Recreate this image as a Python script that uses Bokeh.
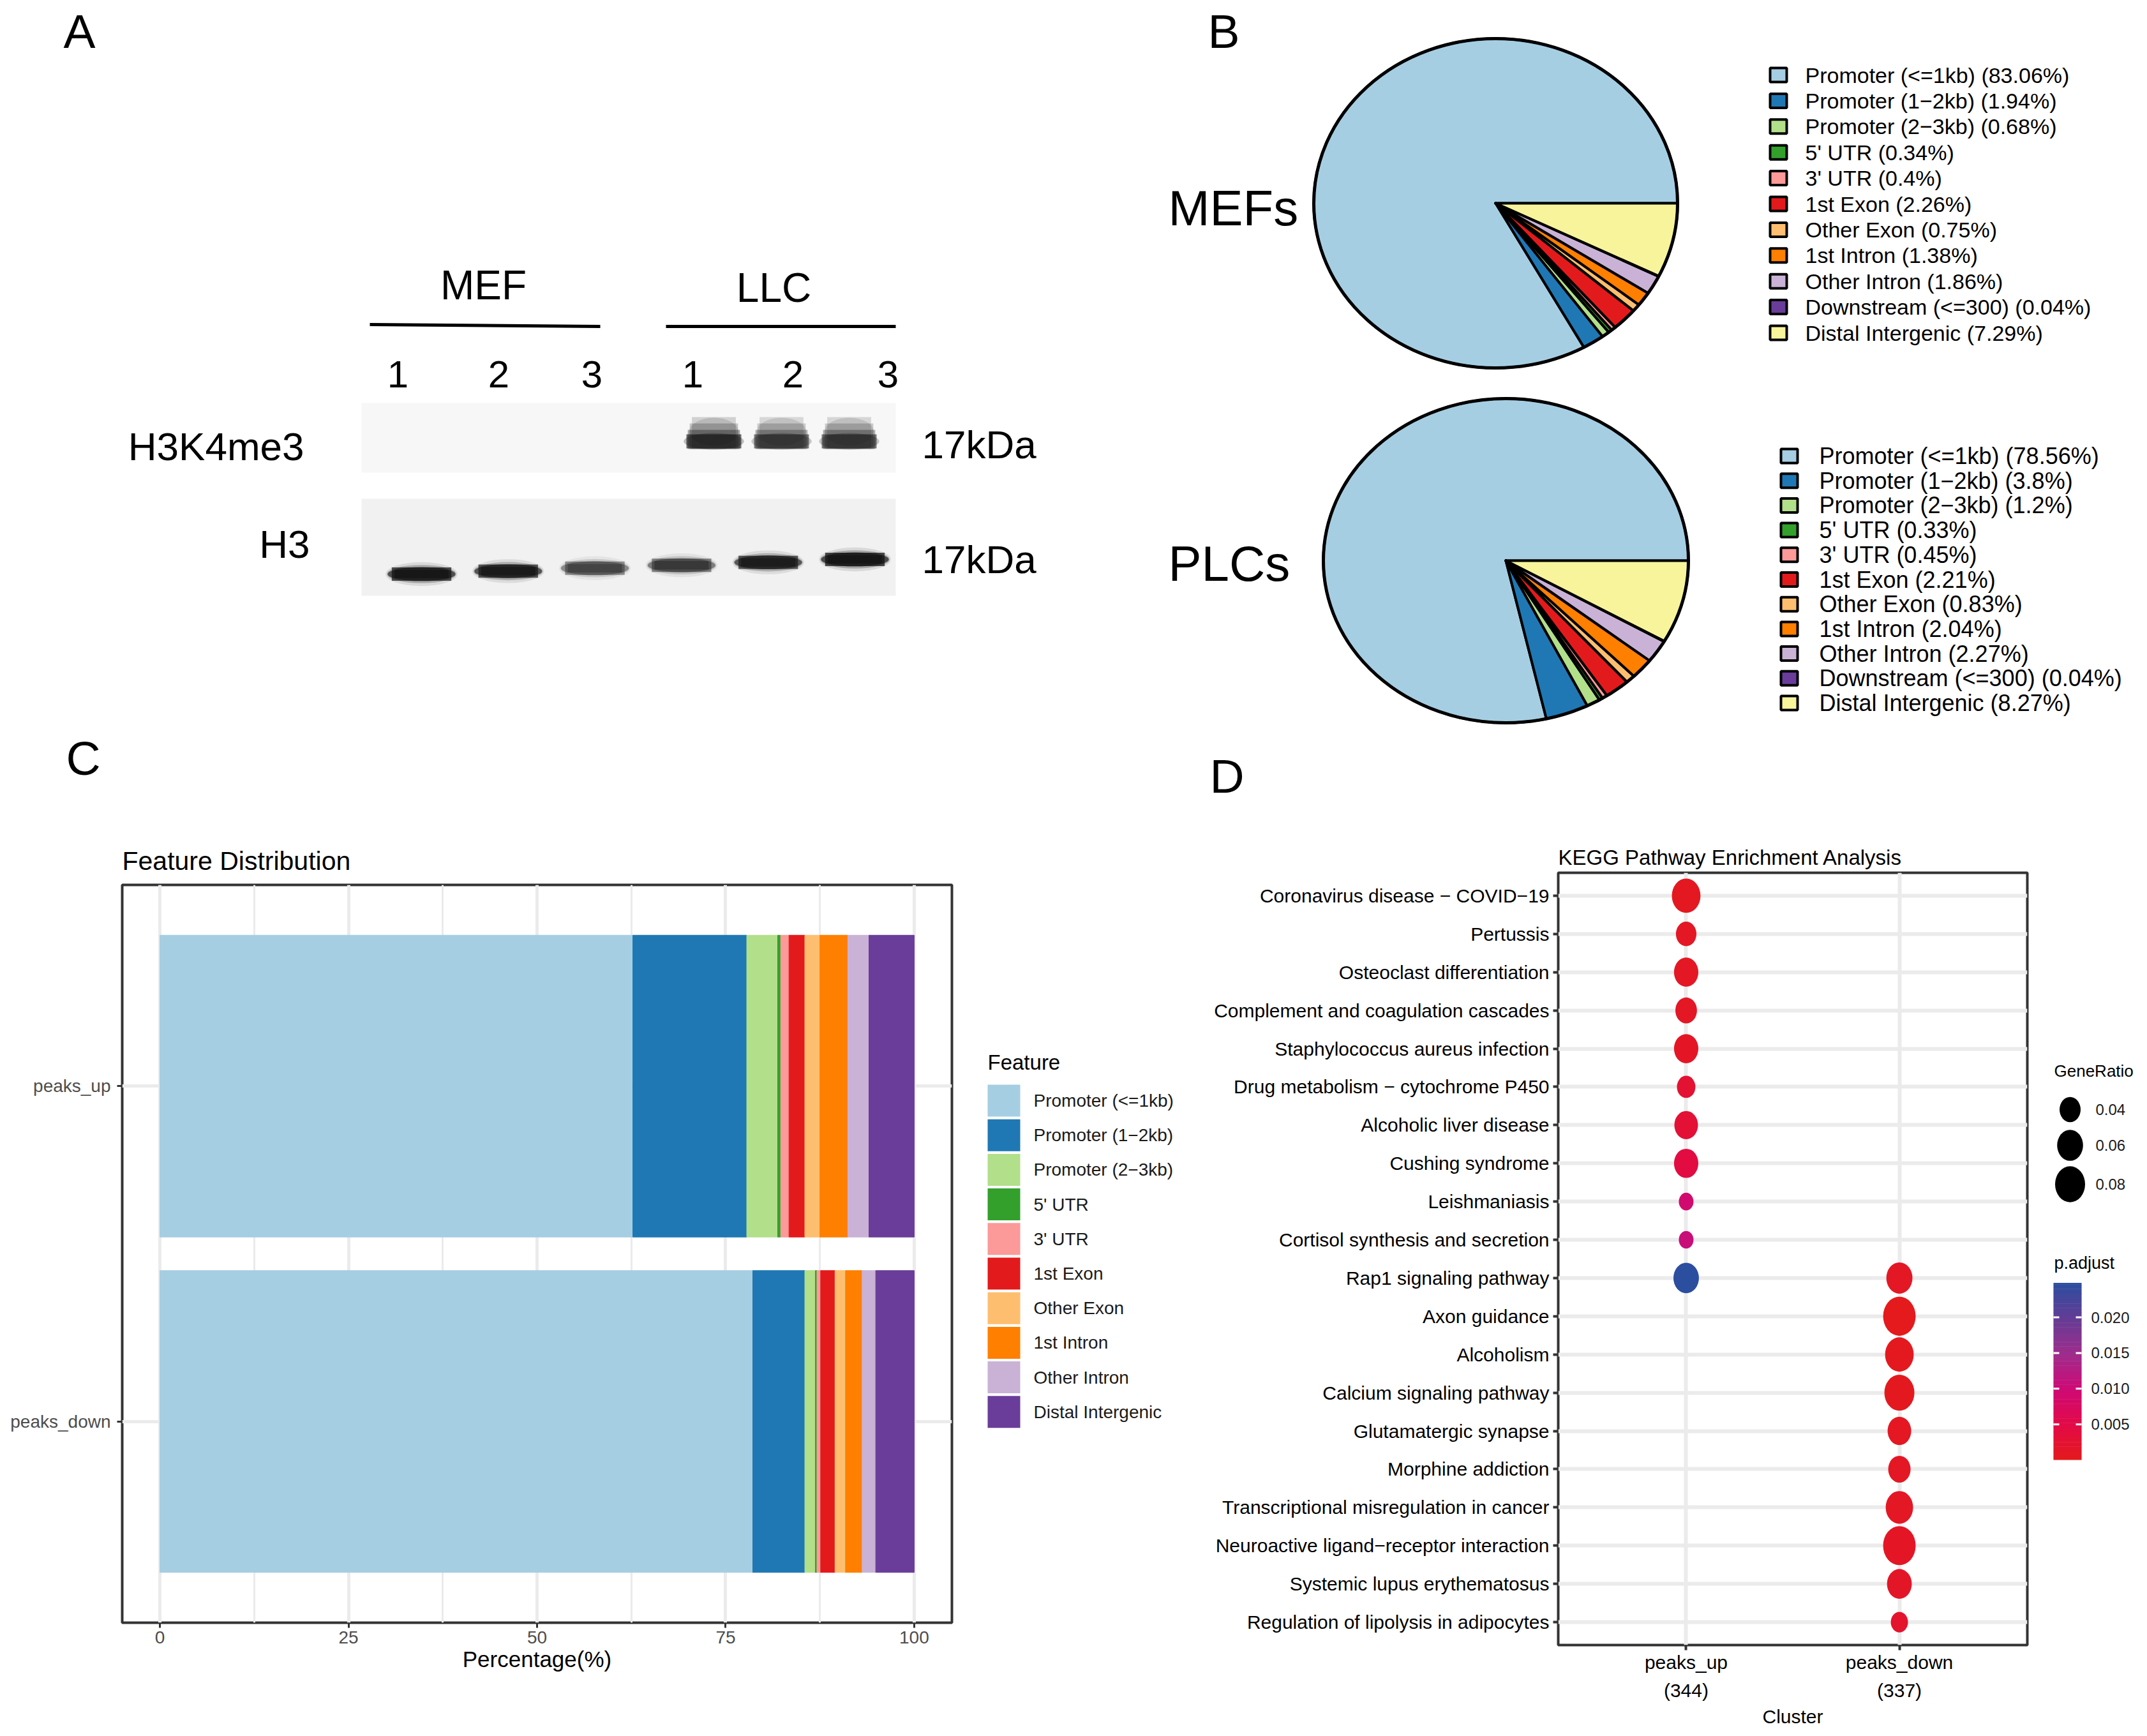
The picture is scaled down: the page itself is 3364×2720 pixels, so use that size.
import numpy as np
from bokeh.plotting import figure
from bokeh.models import Range1d, FactorRange, ColumnDataSource, FixedTicker
from bokeh.layouts import column, row
from bokeh.core.properties import value
from bokeh.transform import linear_cmap
from bokeh.embed import file_html
from bokeh.resources import INLINE

SANS = "Liberation Sans"

# ---------------- DATA ----------------
# Panel A : western blot (relative band intensity per lane)
lane_numbers = ["1", "2", "3", "1", "2", "3"]
lane_groups = ["MEF", "LLC"]
blot_rows = ["H3K4me3", "H3"]
blot_marker = ["17kDa", "17kDa"]
h3k4me3_signal = [0.0, 0.0, 0.0, 1.0, 0.85, 0.88]
h3_signal = [0.97, 0.92, 0.55, 0.62, 0.9, 1.0]

# Panel B : peak annotation pies
anno_features = ["Promoter (<=1kb)", "Promoter (1\u22122kb)", "Promoter (2\u22123kb)", "5' UTR", "3' UTR",
                 "1st Exon", "Other Exon", "1st Intron", "Other Intron", "Downstream (<=300)",
                 "Distal Intergenic"]
mefs_pct = [83.06, 1.94, 0.68, 0.34, 0.4, 2.26, 0.75, 1.38, 1.86, 0.04, 7.29]
plcs_pct = [78.56, 3.8, 1.2, 0.33, 0.45, 2.21, 0.83, 2.04, 2.27, 0.04, 8.27]
anno_colors = ["#A6CEE3", "#1F78B4", "#B2DF8A", "#33A02C", "#FB9A99", "#E31A1C",
               "#FDBF6F", "#FF7F00", "#CAB2D6", "#6A3D9A", "#F7F49C"]
pie_names = ["MEFs", "PLCs"]

# Panel C : feature distribution
bar_features = ["Promoter (<=1kb)", "Promoter (1\u22122kb)", "Promoter (2\u22123kb)", "5' UTR", "3' UTR",
                "1st Exon", "Other Exon", "1st Intron", "Other Intron", "Distal Intergenic"]
bar_samples = ["peaks_up", "peaks_down"]
peaks_up_pct = [62.7, 15.1, 4.1, 0.4, 1.1, 2.1, 2.0, 3.7, 2.8, 6.0]
peaks_down_pct = [78.6, 6.9, 1.4, 0.2, 0.5, 1.9, 1.4, 2.2, 1.8, 5.1]
bar_colors = ["#A6CEE3", "#1F78B4", "#B2DF8A", "#33A02C", "#FB9A99", "#E31A1C",
              "#FDBF6F", "#FF7F00", "#CAB2D6", "#6A3D9A"]
pct_ticks = [0, 25, 50, 75, 100]
pct_minor = [12.5, 37.5, 62.5, 87.5]

# Panel D : KEGG enrichment
kegg_pathways = ["Coronavirus disease \u2212 COVID\u221219", "Pertussis", "Osteoclast differentiation",
                 "Complement and coagulation cascades", "Staphylococcus aureus infection",
                 "Drug metabolism \u2212 cytochrome P450", "Alcoholic liver disease", "Cushing syndrome",
                 "Leishmaniasis", "Cortisol synthesis and secretion", "Rap1 signaling pathway",
                 "Axon guidance", "Alcoholism", "Calcium signaling pathway", "Glutamatergic synapse",
                 "Morphine addiction", "Transcriptional misregulation in cancer",
                 "Neuroactive ligand\u2212receptor interaction", "Systemic lupus erythematosus",
                 "Regulation of lipolysis in adipocytes"]
clusters = ["peaks_up\n(344)", "peaks_down\n(337)"]
up_pathways = kegg_pathways[:11]
up_ratio = [0.073, 0.038, 0.053, 0.042, 0.053, 0.031, 0.050, 0.053, 0.020, 0.020, 0.058]
up_padj = [0.0006, 0.0009, 0.0010, 0.0011, 0.0012, 0.0025, 0.0029, 0.0043, 0.0093, 0.0105, 0.0248]
down_pathways = kegg_pathways[10:]
down_ratio = [0.061, 0.094, 0.073, 0.080, 0.050, 0.045, 0.067, 0.094, 0.055, 0.027]
down_padj = [0.0010, 0.00002, 0.0003, 0.0004, 0.0008, 0.0009, 0.0010, 0.0012, 0.0014, 0.0018]
ratio_breaks = [0.04, 0.06, 0.08]
padj_breaks = [0.005, 0.010, 0.015, 0.020]
padj_low, padj_high = 0.0, 0.0248
padj_stops = ["#E41A1C", "#E20A48", "#CE0A76", "#9E2D8C", "#643C95", "#2C4E9F"]


# ---------------- helpers ----------------
def hex2rgb(h):
    return [int(h[i:i + 2], 16) for i in (1, 3, 5)]


def interp_palette(stops, n=256):
    cols = np.array([hex2rgb(s) for s in stops], float)
    pos = np.linspace(0, 1, len(stops))
    out = []
    for t in np.linspace(0, 1, n):
        rgb = [int(round(np.interp(t, pos, cols[:, k]))) for k in range(3)]
        out.append("#%02x%02x%02x" % tuple(rgb))
    return out


PALETTE = interp_palette(padj_stops)


def dot_w(r):
    return np.sqrt(np.maximum(28000.0 * np.asarray(r, float) - 31.0, 1.0))


def dot_h(r):
    return 1.2 * dot_w(r)


def fmt(v):
    return f"{v:g}"


def txt(p, x, y, t, size, font=SANS, align="left", baseline="middle", color="black"):
    p.text(x=x, y=y, text=t, text_font=value(font), text_font_size=size,
           text_align=align, text_baseline=baseline, text_color=color)


# ---------------- TOP (A + B) ----------------
W = 3356
Y0 = 1270
top = figure(width=W, height=Y0, x_range=Range1d(0, W), y_range=Range1d(Y0, 0),
             x_axis_type=None, y_axis_type=None, toolbar_location=None,
             output_backend="svg", min_border=0)
top.outline_line_color = None

# panel letters
txt(top, [124, 1917, 130, 1922], [48, 48, 1187, 1215], ["A", "B", "C", "D"], "75px", align="center")

# ---- A : blot ----
txt(top, [757, 1212], [446, 450], lane_groups, "64px", align="center")
top.segment(x0=[579, 1043], y0=[508, 511], x1=[940, 1403], y1=[511, 511], line_width=5, line_color="black")
lane_label_x = [623, 781, 927, 1085, 1242, 1391]
txt(top, lane_label_x, [586] * 6, lane_numbers, "60px", align="center")
top.quad(left=[566, 566], right=[1403, 1403], top=[631, 781], bottom=[740, 933],
         fill_color=["#F7F7F7", "#F1F1F1"], line_color=None)
txt(top, [476, 485], [699, 852], blot_rows, "62px", align="right")
txt(top, [1444, 1444], [696, 876], blot_marker, "62px")

ex, ey, ew, eh, ea = [], [], [], [], []
rx_, ry_, rw, rh, ra = [], [], [], [], []
# H3 bands
for i, s in enumerate(h3_signal):
    cx = 660 + 135.8 * i
    cy = 899 - 4.6 * i
    w, h = 106, 22
    for fw, fh, a in [(1.06, 1.7, 0.10), (1.02, 1.3, 0.25), (1.0, 1.0, 0.6)]:
        ex.append(cx); ey.append(cy); ew.append(w * fw); eh.append(h * fh); ea.append(a * s)
    for fw, fh, a in [(0.88, 0.95, 0.7), (0.8, 0.6, 0.5)]:
        rx_.append(cx); ry_.append(cy); rw.append(w * fw); rh.append(h * fh); ra.append(a * s)
# H3K4me3 bands: fuzzy trapezoid smear, darkest at the bottom
for j, s in enumerate(h3k4me3_signal):
    if s <= 0:
        continue
    cx = 1118 + 106 * (j - 3)
    w = 86
    for cy_, fw, hh, a in [(678, 0.80, 50, 0.16), (683, 0.88, 40, 0.22), (688, 0.95, 30, 0.35),
                           (691, 1.0, 22, 0.6)]:
        rx_.append(cx); ry_.append(cy_); rw.append(w * fw); rh.append(hh); ra.append(a * s)
    ex.append(cx); ey.append(691); ew.append(w * 1.1); eh.append(26); ea.append(0.25 * s)
    ex.append(cx); ey.append(676); ew.append(w * 0.9); eh.append(44); ea.append(0.12 * s)

top.ellipse(x=ex, y=ey, width=ew, height=eh, width_units="screen", height_units="screen",
            fill_color="#0d0d0d", fill_alpha=ea, line_color=None)
top.rect(x=rx_, y=ry_, width=rw, height=rh, width_units="screen", height_units="screen",
         fill_color="#0d0d0d", fill_alpha=ra, line_color=None)

# ---- B : pies ----
pie_geom = [(2343, 318, 285, 258), (2359, 878, 286, 254)]
leg_geom = [(2786, 2828, 117, 40.4, "34px"), (2803, 2850, 714, 38.7, "36px")]
name_y = [325, 882]
for k, pcts in enumerate([mefs_pct, plcs_pct]):
    cx, cy, rx, ry = pie_geom[k]
    frac = np.array(pcts, float) / np.sum(pcts)
    ends = np.cumsum(frac) * 2 * np.pi
    starts = ends - frac * 2 * np.pi
    xs, ys = [], []
    for a0, a1 in zip(starts, ends):
        n = max(2, int(np.ceil((a1 - a0) / 0.01)) + 1)
        t = np.linspace(a0, a1, n)
        xs.append([cx] + list(cx + rx * np.cos(t)))
        ys.append([cy] + list(cy - ry * np.sin(t)))
    top.patches(xs=xs, ys=ys, fill_color=anno_colors, line_color="black", line_width=4,
                line_join="round")
    top.ellipse(x=[cx], y=[cy], width=[2 * rx], height=[2 * ry], width_units="screen",
                height_units="screen", fill_color=None, line_color="black", line_width=5)
    txt(top, [1830], [name_y[k]], [pie_names[k]], "78px")
    sqx, tx, y0, dy, fs = leg_geom[k]
    rows_y = [y0 + dy * i for i in range(len(pcts))]
    top.rect(x=[sqx] * len(pcts), y=rows_y, width=26, height=22, width_units="screen",
             height_units="screen", fill_color=anno_colors, line_color="black", line_width=4)
    labels = [f"{n} ({fmt(v)}%)" for n, v in zip(anno_features, pcts)]
    txt(top, [tx] * len(pcts), rows_y, labels, fs)

# ---------------- BOTTOM ----------------
HB = 2712 - Y0
C_TOP, C_BOT = 1386, 2542

# ---- C : stacked bars ----
figC = figure(width=1500, height=HB, x_range=Range1d(-5, 105),
              y_range=FactorRange(factors=bar_samples[::-1], range_padding=0.1),
              min_border_left=191, min_border_right=9, min_border_top=C_TOP - Y0,
              min_border_bottom=2712 - C_BOT, toolbar_location=None, output_backend="svg",
              title="Feature Distribution")
srcC = {"sample": bar_samples}
keys = []
for i in range(len(bar_features)):
    srcC[f"f{i}"] = [peaks_up_pct[i], peaks_down_pct[i]]
    keys.append(f"f{i}")
rs = figC.hbar_stack(keys, y="sample", height=0.9, fill_color=bar_colors, line_color=bar_colors,
                     line_width=1, source=ColumnDataSource(srcC))
figC.title.text_font = SANS
figC.title.text_font_size = "41px"
figC.title.text_font_style = "normal"
figC.title.text_color = "black"
figC.title.standoff = 29
figC.title.align = "left"
tk = FixedTicker(ticks=pct_ticks, minor_ticks=pct_minor)
figC.xaxis.ticker = tk
figC.xgrid.ticker = tk
figC.xaxis.axis_label = "Percentage(%)"
figC.xaxis.axis_label_text_font = SANS
figC.xaxis.axis_label_text_font_size = "35px"
figC.xaxis.axis_label_text_font_style = "normal"
figC.xaxis.axis_label_text_color = "black"
figC.xaxis.axis_label_standoff = 2
figC.axis.major_label_text_font = SANS
figC.axis.major_label_text_font_size = "28px"
figC.axis.major_label_text_color = "#4D4D4D"
figC.axis.axis_line_color = None
figC.axis.major_tick_line_color = "#333333"
figC.axis.major_tick_line_width = 3
figC.axis.major_tick_out = 8
figC.axis.major_tick_in = 0
figC.axis.minor_tick_line_color = None
figC.xaxis.major_label_standoff = 5
figC.yaxis.major_label_standoff = 10
figC.xgrid.grid_line_color = "#EBEBEB"
figC.xgrid.grid_line_width = 5
figC.xgrid.minor_grid_line_color = "#EBEBEB"
figC.xgrid.minor_grid_line_width = 3
figC.ygrid.grid_line_color = "#EBEBEB"
figC.ygrid.grid_line_width = 5
figC.outline_line_color = "#333333"
figC.outline_line_width = 4

# ---- C legend (own canvas, data units = screen pixels) ----
figCL = figure(width=375, height=HB, x_range=Range1d(1500, 1875), y_range=Range1d(C_BOT, C_TOP),
               x_axis_type=None, y_axis_type=None, toolbar_location=None, output_backend="svg",
               min_border_left=0, min_border_right=0, min_border_top=C_TOP - Y0,
               min_border_bottom=2712 - C_BOT)
figCL.outline_line_color = None
txt(figCL, [1547], [1664], ["Feature"], "33px")
key_y = [1724 + 54.2 * i for i in range(len(bar_features))]
figCL.rect(x=[1572.5] * len(bar_features), y=key_y, width=51, height=50, width_units="screen",
           height_units="screen", fill_color=bar_colors, line_color=None)
txt(figCL, [1619] * len(bar_features), key_y, bar_features, "28px", color="#1A1A1A")

# ---- D : dot plot ----
D_TOP, D_BOT = 1367, 2577
figD = figure(width=1310, height=HB,
              x_range=FactorRange(factors=clusters, range_padding=0.1),
              y_range=FactorRange(factors=kegg_pathways[::-1], range_padding=0.01),
              min_border_left=2441 - 1875, min_border_right=9, min_border_top=D_TOP - Y0,
              min_border_bottom=2712 - D_BOT, toolbar_location=None, output_backend="svg",
              title="KEGG Pathway Enrichment Analysis")
dot_pathway = up_pathways + down_pathways
dot_cluster = [clusters[0]] * len(up_pathways) + [clusters[1]] * len(down_pathways)
dot_ratio = up_ratio + down_ratio
dot_padj = up_padj + down_padj
srcD = ColumnDataSource(dict(pathway=dot_pathway, cluster=dot_cluster, ratio=dot_ratio,
                             padj=dot_padj, w=dot_w(dot_ratio), h=dot_h(dot_ratio)))
figD.ellipse(x="cluster", y="pathway", width="w", height="h", width_units="screen",
             height_units="screen", source=srcD,
             fill_color=linear_cmap("padj", PALETTE, padj_low, padj_high), line_color=None)
figD.title.text_font = SANS
figD.title.text_font_size = "33px"
figD.title.text_font_style = "normal"
figD.title.text_color = "black"
figD.title.standoff = 12
figD.title.align = "left"
figD.xaxis.axis_label = "Cluster"
figD.xaxis.axis_label_text_font = SANS
figD.xaxis.axis_label_text_font_size = "30px"
figD.xaxis.axis_label_text_font_style = "normal"
figD.xaxis.axis_label_text_color = "black"
figD.xaxis.axis_label_standoff = 5
figD.axis.major_label_text_font = SANS
figD.axis.major_label_text_color = "black"
figD.yaxis.major_label_text_font_size = "30px"
figD.xaxis.major_label_text_font_size = "30px"
figD.xaxis.major_label_text_line_height = 1.35
figD.axis.axis_line_color = None
figD.axis.major_tick_line_color = "#333333"
figD.axis.major_tick_line_width = 4
figD.axis.major_tick_out = 8
figD.axis.major_tick_in = 0
figD.axis.minor_tick_line_color = None
figD.xaxis.major_label_standoff = 2
figD.yaxis.major_label_standoff = 6
figD.grid.grid_line_color = "#EBEBEB"
figD.grid.grid_line_width = 6
figD.outline_line_color = "#333333"
figD.outline_line_width = 4

# ---- D legends (same frame borders as D, data units = screen pixels) ----
figDL = figure(width=171, height=HB, x_range=Range1d(3185, 3356), y_range=Range1d(D_BOT, D_TOP),
               x_axis_type=None, y_axis_type=None, toolbar_location=None, output_backend="svg",
               min_border_left=0, min_border_right=0, min_border_top=D_TOP - Y0,
               min_border_bottom=2712 - D_BOT)
figDL.outline_line_color = None
txt(figDL, [3218], [1677], ["GeneRatio"], "26px")
leg_y = [1738, 1794, 1855]
figDL.ellipse(x=[3243] * 3, y=leg_y, width=dot_w(ratio_breaks), height=dot_h(ratio_breaks),
              width_units="screen", height_units="screen", fill_color="black", line_color=None)
txt(figDL, [3283] * 3, leg_y, [f"{b:.2f}" for b in ratio_breaks], "24px", color="#1A1A1A")
txt(figDL, [3218], [1978], ["p.adjust"], "27px")
cb_top, cb_bot = 2010, 2287


def cb_y(v):
    return cb_bot - (np.asarray(v, float) - padj_low) / (padj_high - padj_low) * (cb_bot - cb_top)


edges = np.linspace(padj_low, padj_high, 121)
mids = (edges[:-1] + edges[1:]) / 2
cb_src = ColumnDataSource(dict(m=mids, b=cb_y(edges[:-1]), t=cb_y(edges[1:]) - 0.6))
figDL.quad(left=3217, right=3261, bottom="b", top="t", source=cb_src,
           fill_color=linear_cmap("m", PALETTE, padj_low, padj_high), line_color=None)
ty = list(cb_y(padj_breaks))
figDL.segment(x0=[3217] * 4, x1=[3226] * 4, y0=ty, y1=ty, line_color="white", line_width=3)
figDL.segment(x0=[3252] * 4, x1=[3261] * 4, y0=ty, y1=ty, line_color="white", line_width=3)
txt(figDL, [3276] * 4, ty, [f"{b:.3f}" for b in padj_breaks], "24px", color="#1A1A1A")

bottom = row(column(figC), column(figCL), column(figD), column(figDL), spacing=0)
layout = column(top, bottom, spacing=0)
open("out.html", "w").write(file_html(layout, INLINE))
